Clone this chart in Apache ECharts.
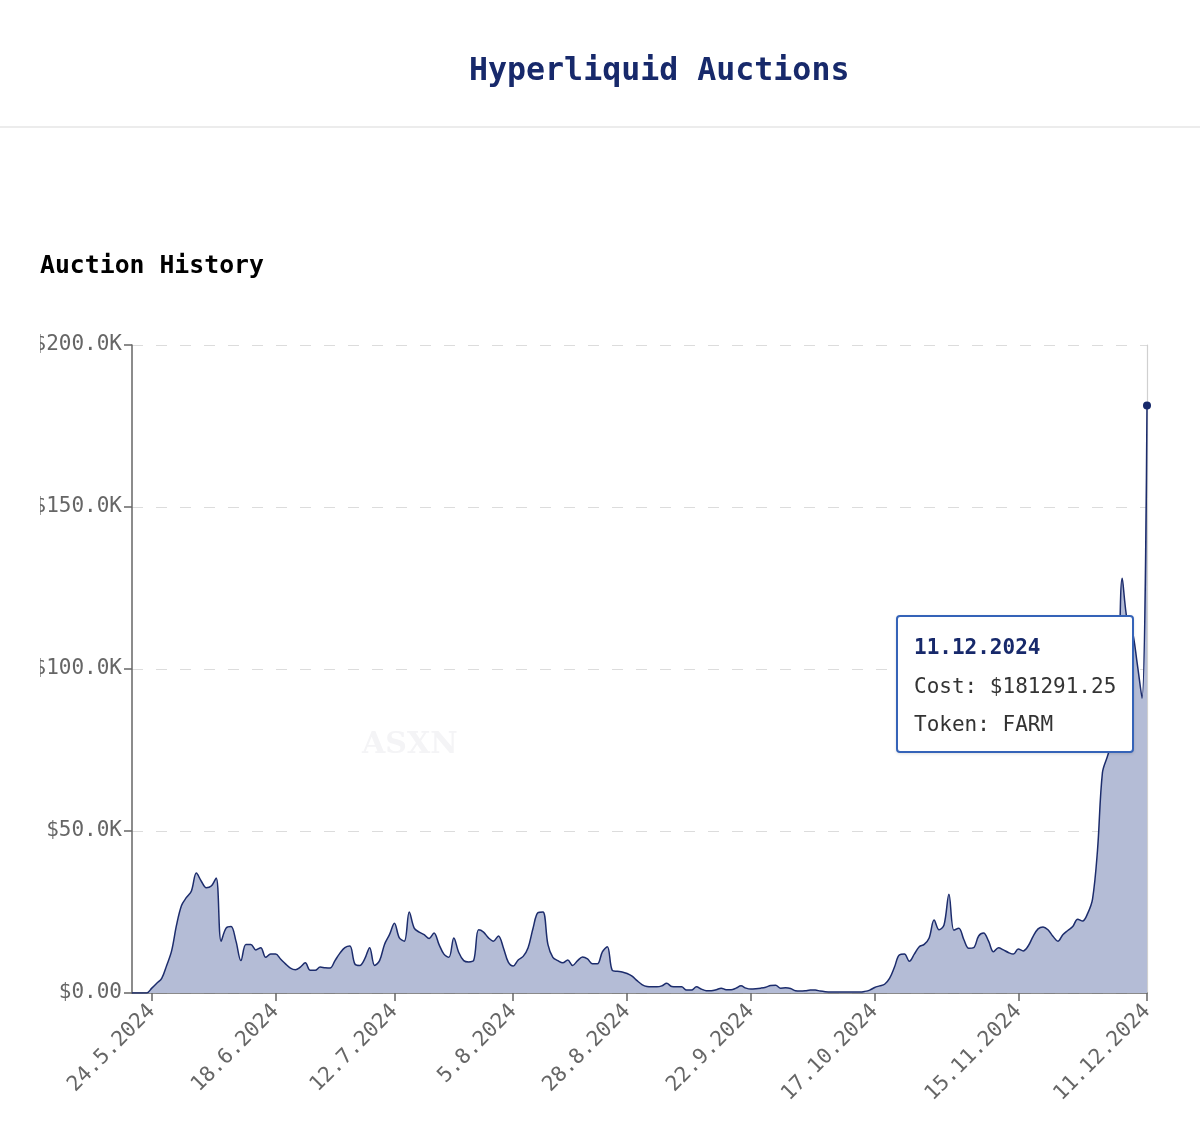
<!DOCTYPE html>
<html>
<head>
<meta charset="utf-8">
<script src="https://cdn.jsdelivr.net/npm/echarts@6/dist/echarts.min.js"></script>
<style>
html,body{margin:0;padding:0;background:#fff;}
#chart{width:1200px;height:1144px;}
.tt-line{font-family:'DejaVu Sans Mono','Liberation Mono',monospace;font-size:21px;line-height:38.5px;white-space:nowrap;color:#333;}
.tt-date{color:#17296b;font-weight:bold;}
</style>
</head>
<body>
<div id="chart"></div>
<script>
// Category dates: one per day from 20.5.2024 to 11.12.2024
const dates = [];
(function(){
  const d = new Date(2024, 4, 20);
  const end = new Date(2024, 11, 11);
  while (d <= end) {
    dates.push(d.getDate() + '.' + (d.getMonth() + 1) + '.' + d.getFullYear());
    d.setDate(d.getDate() + 1);
  }
})();

// Auction cost, in thousands of USD
const costK = [
  0, 0, 0, 0, 1.5, 3, 4.5, 8.5, 13, 21,
  27, 29.5, 31.5, 37, 34.5, 32.5, 33, 35.5, 16, 20,
  20.5, 16, 10, 15, 15, 13.3, 14, 11, 12, 12,
  10.5, 9, 7.7, 7.2, 8, 9.3, 7, 7, 8, 7.8,
  7.7, 10, 12.3, 14, 14.5, 9, 8.5, 10.5, 14, 8.5,
  10, 15, 18, 21.5, 17, 16, 25, 20, 18.8, 18,
  16.8, 18.5, 15, 12, 11, 17, 12.5, 10, 9.6, 10,
  19.5, 18.8, 17, 16, 17.6, 14, 9.5, 8.3, 10.2, 11.3,
  14, 20, 24.8, 25, 15, 11, 10, 9.3, 10.2, 8.5,
  10, 11.1, 10.5, 9, 9, 12.7, 14.3, 7, 6.7, 6.5,
  6, 5.2, 3.8, 2.6, 2, 1.9, 1.9, 2.2, 3, 2,
  1.9, 1.9, 0.9, 0.9, 1.9, 1.2, 0.7, 0.7, 1, 1.5,
  1, 1, 1.5, 2.2, 1.5, 1.2, 1.3, 1.5, 1.8, 2.3,
  2.4, 1.5, 1.6, 1.4, 0.7, 0.6, 0.7, 0.9, 0.9, 0.6,
  0.4, 0.3, 0.3, 0.3, 0.3, 0.3, 0.3, 0.3, 0.5, 0.9,
  1.7, 2.2, 2.7, 4.5, 8, 11.8, 12, 9.8, 12, 14.3,
  15, 17, 22.5, 19.5, 21, 30.5, 19.4, 20, 16.5, 13.8,
  14, 17.6, 18.5, 16, 12.7, 14, 13.3, 12.5, 12, 13.6,
  13, 14.5, 17.5, 19.8, 20.4, 19.5, 17.5, 16, 18, 19.3,
  20.5, 22.8, 22.2, 24.5, 29, 44, 68, 73, 78, 85,
  128, 115, 112, 102, 91, 181.29125
];
const costs = costK.map(v => v * 1000);

const tokens = { '11.12.2024': 'FARM' };

const xTickLabels = ['24.5.2024', '18.6.2024', '12.7.2024', '5.8.2024', '28.8.2024',
                     '22.9.2024', '17.10.2024', '15.11.2024', '11.12.2024'];
const yMin = 0, yMax = 200000, yStep = 50000;

const FONT = '"DejaVu Sans Mono", "Liberation Mono", monospace';
const NAVY = '#17296b';
const lastIdx = costs.length - 1;

const chart = echarts.init(document.getElementById('chart'), null, {renderer: 'canvas'});
const isTick = (idx, val) => xTickLabels.indexOf(val !== undefined ? val : dates[idx]) !== -1;

chart.setOption({
  animation: false,
  backgroundColor: '#fff',
  graphic: [
    {type: 'text', left: 469, top: 56, z: 10,
     style: {text: 'Hyperliquid Auctions', fill: NAVY, font: 'bold 31.6px ' + FONT}},
    {type: 'line', shape: {x1: 0, y1: 127, x2: 1200, y2: 127},
     style: {stroke: '#e6e6e6', lineWidth: 1.5}},
    {type: 'text', left: 40, top: 254, z: 10,
     style: {text: 'Auction History', fill: '#000', font: 'bold 24.8px ' + FONT}},
    {type: 'text', left: 362, top: 730, z: 1, silent: true,
     style: {text: 'ASXN', fill: '#f4f4f6', font: 'bold 30px "DejaVu Serif", serif'}},
    {type: 'rect', shape: {x: 0, y: 320, width: 40, height: 380}, z: 100,
     style: {fill: '#fff'}}
  ],
  grid: {left: 132, right: 53, top: 345, bottom: 151, containLabel: false},
  tooltip: {
    trigger: 'axis',
    alwaysShowContent: true,
    triggerOn: 'none',
    axisPointer: {type: 'none'},
    transitionDuration: 0,
    backgroundColor: '#fff',
    borderColor: '#3563b8',
    borderWidth: 2,
    padding: [11, 16],
    extraCssText: 'width:238px;height:138px;box-sizing:border-box;border-radius:4px;box-shadow:0 1px 3px rgba(0,0,0,0.12);',
    position: function () { return [896, 615]; },
    formatter: function (params) {
      const p = Array.isArray(params) ? params[0] : params;
      const i = p.dataIndex;
      const d = dates[i];
      const tok = tokens[d] || '';
      return '<div class="tt-line tt-date">' + d + '</div>' +
             '<div class="tt-line">Cost: $' + costs[i].toFixed(2) + '</div>' +
             '<div class="tt-line">Token: ' + tok + '</div>';
    }
  },
  xAxis: {
    type: 'category',
    data: dates,
    boundaryGap: false,
    axisLine: {show: true, lineStyle: {color: '#666', width: 1.5}},
    axisTick: {show: true, interval: isTick, length: 8, lineStyle: {color: '#666', width: 1.5}},
    axisLabel: {
      interval: isTick, rotate: 45, margin: 15,
      color: '#666', fontFamily: FONT, fontSize: 21
    },
    splitLine: {show: false}
  },
  yAxis: [{
    type: 'value',
    min: yMin, max: yMax, interval: yStep,
    axisLine: {show: true, lineStyle: {color: '#666', width: 1.5}},
    axisTick: {show: true, length: 8, lineStyle: {color: '#666', width: 1.5}},
    axisLabel: {
      margin: 10, color: '#666', fontFamily: FONT, fontSize: 21,
      formatter: function (v) { return v === 0 ? '$0.00' : '$' + (v / 1000).toFixed(1) + 'K'; }
    },
    splitLine: {show: true, lineStyle: {color: '#dcdcdc', type: [11, 13], width: 1.2}}
  }, {
    type: 'value', position: 'right',
    min: yMin, max: yMax, interval: yStep,
    axisLine: {show: true, lineStyle: {color: '#d0d0d0', width: 1.2}},
    axisTick: {show: false}, axisLabel: {show: false}, splitLine: {show: false}
  }],
  series: [{
    type: 'line',
    data: costs,
    smooth: 0.35,
    showSymbol: false,
    symbol: 'circle',
    lineStyle: {color: '#1c2c6c', width: 1.5},
    itemStyle: {color: '#1c2c6c'},
    areaStyle: {color: '#b4bcd6', opacity: 1},
    emphasis: {disabled: true},
    markPoint: {
      symbol: 'circle', symbolSize: 8, silent: true,
      itemStyle: {color: NAVY},
      label: {show: false},
      data: [{coord: [lastIdx, costs[lastIdx]]}]
    }
  }]
});

setTimeout(function () {
  chart.dispatchAction({type: 'showTip', seriesIndex: 0, dataIndex: lastIdx});
}, 50);
</script>
</body>
</html>
